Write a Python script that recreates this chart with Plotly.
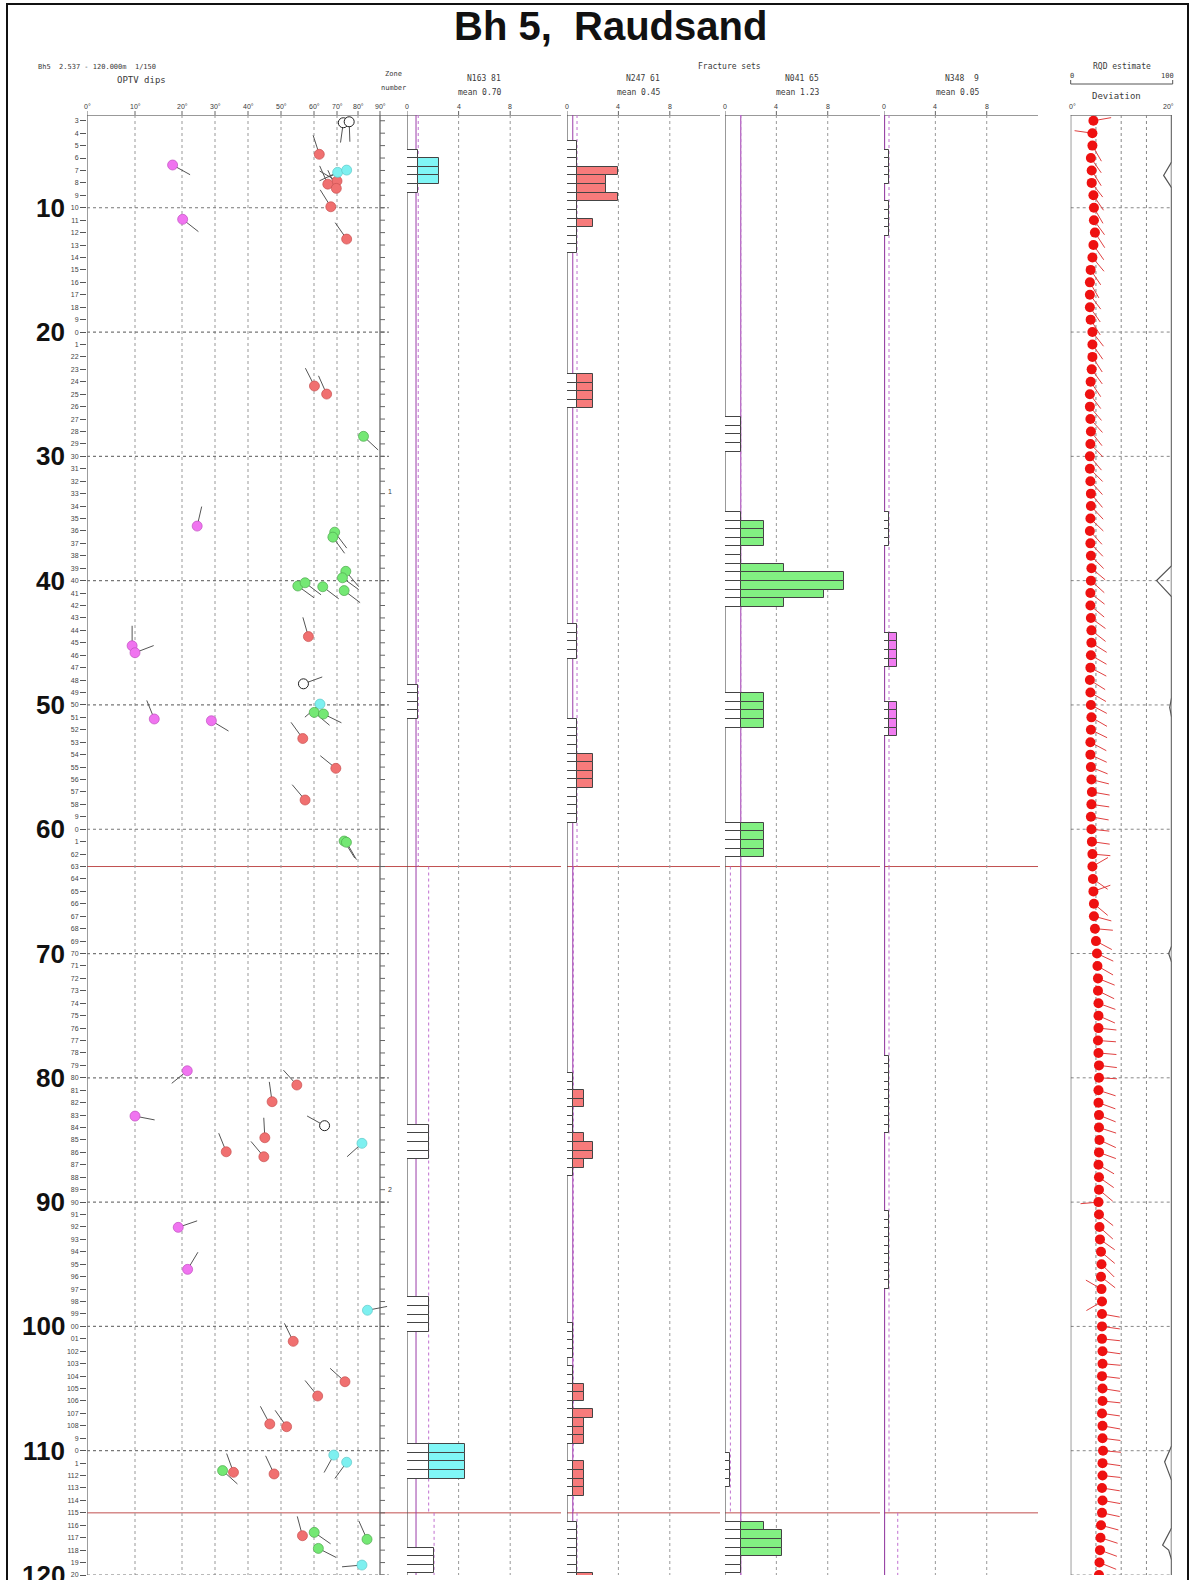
import numpy as np
import plotly.graph_objects as go

# ---------------- geometry helpers (layout only) ----------------
W, H = 1191, 1580
T_PX, B_PX = 115, 5
D_TOP, D_BOT = 2.537, 120.0
PLOT_H = H - T_PX - B_PX
PPM = PLOT_H / (D_BOT - D_TOP)          # pixels per metre


def fx(p):
    return p / W


def fy(p):
    return 1 - (p - T_PX) / PLOT_H


FONT = "Liberation Sans"
MONO = "DejaVu Sans Mono"
TXT = "#3a3a3a"

# ---------------- data ----------------
ZONE_TOPS = [2.537, 63.0, 115.0]
ZONE_LABELS = ["1", "2"]
ZONE_LABEL_DEPTHS = [32.8, 89.0]

# OPTV dips (tadpoles)
DIP_DEPTH = [3.16, 3.08, 5.70, 6.56, 7.15, 6.97, 7.85, 8.10, 8.44, 9.92, 10.93, 12.52,
             24.34, 24.99, 28.39, 35.61, 36.10, 36.50, 39.25, 39.77, 40.43, 40.17, 40.49,
             40.80, 44.50, 45.24, 45.80, 48.30, 49.93, 50.60, 50.73, 51.13, 51.27, 52.70,
             55.10, 57.65, 60.95, 61.05, 79.43, 80.58, 81.92, 83.08, 83.85, 84.82, 85.27,
             85.95, 86.35, 92.03, 95.41, 98.70, 101.20, 104.45, 105.60, 107.85, 108.07,
             110.35, 110.93, 111.60, 111.74, 111.87, 116.84, 116.57, 117.86, 117.13, 119.20]
DIP_ANGLE = [73.0, 75.8, 62.3, 18.0, 70.3, 74.6, 70.0, 66.0, 69.7, 67.3, 20.2, 74.6,
             60.2, 65.5, 82.5, 24.6, 69.0, 68.2, 74.2, 72.6, 55.1, 57.3, 63.8,
             73.4, 58.3, 9.4, 10.0, 56.8, 62.6, 60.1, 64.1, 14.1, 28.9, 56.6,
             69.5, 57.3, 73.4, 74.5, 21.6, 54.8, 47.3, 10.0, 64.6, 45.1, 81.8,
             33.4, 44.8, 19.2, 21.7, 84.3, 53.7, 73.8, 61.6, 46.6, 51.7,
             68.6, 74.6, 32.3, 35.6, 47.9, 56.5, 60.1, 61.9, 84.1, 81.8]
DIP_AZIM = [188, 178, 342, 119, 245, 250, 300, 336, 335, 328, 128, 325,
            333, 336, 133, 13, 143, 144, 140, 126, 126, 127, 127,
            127, 344, 0, 69, 70, 229, 130, 116, 338, 121, 324,
            309, 320, 148, 150, 231, 318, 352, 101, 299, 357, 228,
            338, 320, 71, 31, 79, 334, 312, 321, 332, 325,
            209, 216, 132, 340, 335, 345, 125, 117, 336, 265]
DIP_SET = ["X", "X", "N247", "N348", "N163", "N163", "N247", "N247", "N247", "N247", "N348", "N247",
           "N247", "N247", "N041", "N348", "N041", "N041", "N041", "N041", "N041", "N041", "N041",
           "N041", "N247", "N348", "N348", "X", "N163", "N041", "N041", "N348", "N348", "N247",
           "N247", "N247", "N041", "N041", "N348", "N247", "N247", "N348", "X", "N247", "N163",
           "N247", "N247", "N348", "N348", "N163", "N247", "N247", "N247", "N247", "N247",
           "N163", "N163", "N041", "N247", "N247", "N247", "N041", "N041", "N041", "N163"]

DIP_TICKS = [0, 10, 20, 30, 40, 50, 60, 70, 80, 90]

# Fracture-set histograms: bins of BIN_WIDTH m from BIN_START, runs of (first bin, values)
BIN_START = 2.537
BIN_WIDTH = 0.6943
SET_NAMES = ["N163", "N247", "N041", "N348"]
SET_TITLE = ["N163 81", "N247 61", "N041 65", "N348\u00a0\u00a09"]
SET_MEAN = [0.70, 0.45, 1.23, 0.05]
SET_THRESH = [[0.87, 1.68, 2.10],
              [0.78, 0.50, 0.78],
              [1.23, 0.42, 1.23],
              [0.39, 0.39, 1.07]]
N163_RUNS = [(4, [0.3, 2.45, 2.45, 2.45, 0.3]), (66, [0.3] * 4), (117, [0.3] * 4),
             (137, [0.3] * 4), (154, [4.5] * 4), (166, [0.3] * 3)]
N247_RUNS = [(3, [0.3, 0.3, 0.3, 4.0, 3.0, 3.0, 4.0, 0.3, 0.3, 2.0, 0.3, 0.3, 0.3]),
             (30, [2.0] * 4), (59, [0.3] * 4),
             (70, [0.3, 0.3, 0.3, 0.3, 2.0, 2.0, 2.0, 2.0, 0.3, 0.3, 0.3, 0.3]),
             (111, [0.3, 0.3, 1.36, 1.36, 0.3, 0.3, 0.3, 1.36, 2.0, 2.0, 1.36, 0.3]),
             (140, [0.3] * 4),
             (145, [0.3, 0.3, 1.36, 1.36, 0.3, 2.0, 1.36, 1.36, 1.36]),
             (156, [1.36] * 4), (163, [0.3] * 6), (169, [2.0])]
N041_RUNS = [(35, [0.3] * 4),
             (46, [0.3, 3.07, 3.07, 3.07, 0.3, 0.3, 4.6, 9.3, 9.3, 7.7, 4.6]),
             (67, [3.07] * 4), (82, [3.07] * 4), (155, [0.3] * 4),
             (163, [3.0, 4.4, 4.4, 4.4, 0.3, 0.3])]
N348_RUNS = [(4, [0.3] * 4), (10, [0.3] * 4), (46, [0.3] * 4), (60, [1.0] * 4),
             (68, [1.0] * 4), (109, [0.3] * 9), (127, [0.3] * 9)]
SET_RUNS = [N163_RUNS, N247_RUNS, N041_RUNS, N348_RUNS]
HIST_TICKS = [0, 4, 8]

# Deviation (one value per metre) and azimuth of the deviation tail
DEV_DEPTH = list(range(3, 121))
DEV_VALUE = ([4.5, 4.3, 4.3, 4.0, 4.15, 4.15, 4.5, 4.6, 4.6, 4.8, 4.5, 4.3, 3.95, 3.8, 3.8,
              3.8, 3.95, 4.3, 4.3, 4.3, 4.15, 3.95, 3.8]
             + [3.8, 3.9, 4.0, 3.9, 3.8, 3.8, 3.9, 4.0, 4.0, 3.9, 3.8, 3.9, 4.0, 4.1, 4.0,
                3.9, 3.9, 4.0, 4.1]
             + [4.1, 4.0, 3.9, 3.8, 3.9, 4.0, 4.1, 4.0, 3.9, 3.9, 4.0, 4.1, 4.2, 4.1, 4.0,
                4.1, 4.2, 4.3]
             + [4.3, 4.4, 4.5, 4.6, 4.6, 4.8, 5.0, 5.2]
             + [5.3, 5.4, 5.4, 5.5, 5.5, 5.5, 5.4, 5.5, 5.6, 5.6, 5.5, 5.5, 5.6, 5.6, 5.7,
                5.6, 5.5, 5.6, 5.6, 5.5]
             + [5.6, 5.7, 5.8, 6.0, 6.1, 6.0, 6.1, 6.2, 6.2, 6.2]
             + [6.2, 6.3, 6.3, 6.2, 6.3, 6.3, 6.2, 6.3, 6.3, 6.4, 6.3, 6.3, 6.2, 6.3, 6.2,
                6.0, 5.9, 5.8, 5.7, 5.6])
DEV_AZIM = ([80, 278, 150]
            + [145, 148, 142, 146, 150, 144, 147, 145, 140, 146, 150, 143, 145, 148, 142,
               145, 147, 144, 146, 143]
            + [140, 138, 142, 136, 140, 135, 138, 140, 137, 134, 138, 136, 135, 130, 132,
               128, 130, 126, 128]
            + [122, 120, 118, 122, 120, 118, 120, 116, 118, 115, 112]
            + [104, 100, 98, 100, 96, 98, 95]
            + [60, 125, 70, 130, 105, 95]
            + [118, 115, 120, 112, 116, 110, 114]
            + [96, 94, 95, 97, 93]
            + [108, 110, 112, 108, 115, 110, 120, 125]
            + [130, 265]
            + [128, 132, 125, 130, 135, 128]
            + [300, 240]
            + [100, 98, 96, 98, 95, 97, 99, 96, 98, 100, 97, 95, 98, 96, 99, 100, 102, 105,
               108, 110, 112, 115])

# RQD estimate (0-100)
RQD_DEPTH = [2.537, 6.3, 7.4, 8.4, 38.8, 40.0, 41.3, 49.4, 50.2, 51.0, 69.4, 70.0, 70.7,
             109.6, 110.9, 112.4, 116.2, 117.6, 118.0, 118.8, 120.0]
RQD_VALUE = [100, 100, 92, 100, 100, 85, 100, 100, 98, 100, 100, 97, 100,
             100, 93, 100, 100, 91, 97, 100, 100]

DEPTH_TICKS = list(range(3, 121))
SHORT_LABEL = {19: "9", 20: "0", 21: "1", 59: "9", 60: "0", 61: "1", 100: "00", 101: "01",
               109: "9", 110: "0", 111: "1", 119: "19", 120: "20"}
DEPTH_LABELS = [SHORT_LABEL.get(d, str(d)) for d in DEPTH_TICKS]
BIG_DEPTHS = list(range(10, 121, 10))

# ---------------- styles ----------------
SET_FILL = {"N163": "#80F6F6", "N247": "#F77B7B", "N041": "#82F082", "N348": "#F07CF0"}
DOT_FILL = {"N163": "#7DF0F0", "N247": "#F07070", "N041": "#74E874", "N348": "#F074F0", "X": "#FFFFFF"}
DOT_LINE = {"N163": "#62C8C8", "N247": "#C85050", "N041": "#4EA84E", "N348": "#C050C0", "X": "#222222"}

# dip display scale (nonlinear plotter scale), px from 0 deg line
DIP_TICK_PX = [0, 48, 95, 128, 161, 194, 227, 250, 271, 293]
DIP_L, DIP_R = 87, 390
HIST_ZERO = [407, 567, 725, 884]
HIST_UNIT = [12.9, 12.85, 12.84, 12.84]
HIST_END = [561, 720, 880, 1038]
DEV_L, DEV_R = 1070.7, 1171.7


def dip_x(a):
    return np.interp(a, DIP_TICKS, DIP_TICK_PX)


fig = go.Figure()
shapes = []
annots = []


def line(xref, x0, x1, yref, y0, y1, color, width=1, dash="solid"):
    shapes.append(dict(type="line", xref=xref, yref=yref, x0=x0, x1=x1, y0=y0, y1=y1,
                       line=dict(color=color, width=width, dash=dash), layer="below"))


def text(s, x, y, size=8, xanchor="center", yanchor="middle", xref="paper", yref="paper",
         color=TXT, bold=False, family=MONO):
    annots.append(dict(text=("<b>%s</b>" % s) if bold else s, x=x, y=y, xref=xref, yref=yref,
                       xanchor=xanchor, yanchor=yanchor, showarrow=False,
                       font=dict(family=family, size=size, color=color)))


# ---------------- dip panel ----------------
for a, p in zip(DIP_TICKS, DIP_TICK_PX):
    if a in (0, 90):
        line("x", p, p, "y", D_TOP, D_BOT, "#666666", 1.3)
    else:
        line("x", p, p, "y", D_TOP, D_BOT, "#999999", 1, "dot")
    text("%d\u00b0" % a, p, fy(106), xref="x", size=7, family=FONT)
    line("x", p, p, "paper", fy(115), fy(111), "#666666", 1)
for d in BIG_DEPTHS:
    line("x", 0, DIP_R - DIP_L - 1, "y", d, d, "#777777", 1.2, "dot")
    line("x6", 0, 20, "y", d, d, "#888888", 1, "dot")
    text(str(d), fx(67), d, size=26, xanchor="right", yref="y", color="#111111", bold=True,
         family=FONT)

# right-hand ticks of the zone column
tx, ty = [], []
for d in DEPTH_TICKS:
    tx += [DIP_TICK_PX[-1], DIP_TICK_PX[-1] + 5, None]
    ty += [d, d, None]
fig.add_trace(go.Scatter(x=tx, y=ty, mode="lines", line=dict(color="#666666", width=1),
                         xaxis="x", yaxis="y", hoverinfo="skip"))

# tadpole tails
L = 20.0
tx, ty = [], []
for d, a, az in zip(DIP_DEPTH, DIP_ANGLE, DIP_AZIM):
    x0 = float(dip_x(a))
    r = np.radians(az)
    tx += [x0, x0 + L * np.sin(r), None]
    ty += [d, d - L * np.cos(r) / PPM, None]
fig.add_trace(go.Scatter(x=tx, y=ty, mode="lines", line=dict(color="#555555", width=1),
                         xaxis="x", yaxis="y", hoverinfo="skip"))
for s in ["X", "N247", "N163", "N041", "N348"]:
    idx = [i for i, k in enumerate(DIP_SET) if k == s]
    fig.add_trace(go.Scatter(
        x=[float(dip_x(DIP_ANGLE[i])) for i in idx], y=[DIP_DEPTH[i] for i in idx],
        mode="markers", xaxis="x", yaxis="y",
        marker=dict(size=10, color=DOT_FILL[s], line=dict(color=DOT_LINE[s], width=1 if s == "X" else 0.7))))


# ---------------- histograms ----------------
def zone_of(d):
    z = 0
    for i, t in enumerate(ZONE_TOPS):
        if d >= t:
            z = i
    return z


for k, name in enumerate(SET_NAMES):
    xa = "x%d" % (k + 2)
    wy, wx, cy, cx, cb = [], [], [], [], []
    for start, vals in SET_RUNS[k]:
        for j, v in enumerate(vals):
            c = BIN_START + (start + j + 0.5) * BIN_WIDTH
            thr = SET_THRESH[k][zone_of(c)]
            wy.append(c)
            wx.append(thr)
            if v > thr:
                cy.append(c)
                cx.append(v - thr)
                cb.append(thr)
    fig.add_trace(go.Bar(y=wy, x=wx, base=0, orientation="h", width=BIN_WIDTH, xaxis=xa, yaxis="y",
                         marker=dict(color="#FFFFFF", line=dict(color="#444444", width=1))))
    fig.add_trace(go.Bar(y=cy, x=cx, base=cb, orientation="h", width=BIN_WIDTH, xaxis=xa, yaxis="y",
                         marker=dict(color=SET_FILL[name], line=dict(color="#444444", width=1))))
    line(xa, 0, 0, "y", D_TOP, D_BOT, "#555555", 1.2)
    for t in HIST_TICKS[1:]:
        line(xa, t, t, "y", D_TOP, D_BOT, "#999999", 1, "dot")
    for t in HIST_TICKS:
        text(str(t), t, fy(106), xref=xa, size=7, family=FONT)
        line(xa, t, t, "paper", fy(115), fy(111), "#666666", 1)
    line(xa, SET_MEAN[k], SET_MEAN[k], "y", D_TOP, D_BOT, "#9A3CA8", 1)
    zb = ZONE_TOPS + [D_BOT]
    for z in range(3):
        line(xa, SET_THRESH[k][z], SET_THRESH[k][z], "y", zb[z], zb[z + 1], "#C070D0", 1, "dot")
    rx = [503, 662, 821, 981][k]
    text(SET_TITLE[k], fx(rx), fy(79), xanchor="right")
    text("mean %.2f" % SET_MEAN[k], fx(rx + 1), fy(93), xanchor="right")

# top axis lines and zone boundaries
SEGS = [(DIP_L, HIST_END[0]), (HIST_ZERO[1], HIST_END[1]), (HIST_ZERO[2], HIST_END[2]),
        (HIST_ZERO[3], HIST_END[3])]
for a, b in SEGS:
    line("paper", fx(a), fx(b), "y", D_TOP, D_TOP, "#777777", 1.5)
    for zt in ZONE_TOPS[1:]:
        line("paper", fx(a), fx(b), "y", zt, zt, "#C05050", 1)
for lab, d in zip(ZONE_LABELS, ZONE_LABEL_DEPTHS):
    text(lab, fx(390), d, size=7, yref="y", family=FONT)

# ---------------- deviation / RQD ----------------
line("x6", 0, 0, "y", D_TOP, D_BOT, "#555555", 1.2)
line("x6", 20, 20, "y", D_TOP, D_BOT, "#888888", 2)
for t in [5, 10, 15]:
    line("x6", t, t, "y", D_TOP, D_BOT, "#888888", 1, "dot")
line("paper", fx(DEV_L), fx(DEV_R), "y", D_TOP, D_TOP, "#777777", 1.5)
fig.add_trace(go.Scatter(x=RQD_VALUE, y=RQD_DEPTH, mode="lines", xaxis="x7", yaxis="y",
                         line=dict(color="#555555", width=1.2)))
LD = 18.0
DEV_PPU = (DEV_R - DEV_L) / 20.0
tx, ty = [], []
for d, v, az in zip(DEV_DEPTH, DEV_VALUE, DEV_AZIM):
    r = np.radians(az)
    tx += [v, v + LD * np.sin(r) / DEV_PPU, None]
    ty += [d, d - LD * np.cos(r) / PPM, None]
fig.add_trace(go.Scatter(x=tx, y=ty, mode="lines", line=dict(color="#E04040", width=1),
                         xaxis="x6", yaxis="y"))
fig.add_trace(go.Scatter(x=DEV_VALUE, y=DEV_DEPTH, mode="markers", xaxis="x6", yaxis="y",
                         marker=dict(size=10, color="#EE1111")))

# ---------------- header texts ----------------
text("<b>Bh 5,\u00a0\u00a0Raudsand</b>", fx(610), fy(26), size=40, color="#111111", family=FONT)
text("Bh5\u00a0\u00a02.537 - 120.000m\u00a0\u00a01/150", fx(36), fy(67), xanchor="left", size=7)
text("OPTV dips", fx(141), fy(80), size=9)
text("Zone", fx(393), fy(74), size=7)
text("number", fx(393), fy(88), size=7)
text("Fracture sets", fx(729), fy(67))
text("RQD estimate", fx(1122), fy(67))
text("0", fx(1072), fy(76), size=7)
text("100", fx(1167), fy(76), size=7)
text("Deviation", fx(1116), fy(96), size=9)
text("0\u00b0", fx(1072), fy(106), size=7, family=FONT)
text("20\u00b0", fx(1168), fy(106), size=7, family=FONT)
line("paper", fx(DEV_L), fx(DEV_R + 1), "paper", fy(84), fy(84), "#555555", 1)
line("paper", fx(DEV_L), fx(DEV_L), "paper", fy(84), fy(80), "#555555", 1)
line("paper", fx(DEV_R + 1), fx(DEV_R + 1), "paper", fy(84), fy(80), "#555555", 1)

# outer frame
shapes.append(dict(type="rect", xref="paper", yref="paper", x0=fx(7), x1=fx(1188),
                   y0=fy(1600), y1=fy(4), line=dict(color="#111111", width=2)))

# ---------------- axes ----------------
ax_common = dict(visible=False, fixedrange=True, anchor="y")
layout = dict(
    width=W, height=H, margin=dict(l=0, r=0, t=T_PX, b=B_PX),
    paper_bgcolor="white", plot_bgcolor="rgba(0,0,0,0)", showlegend=False,
    barmode="overlay", bargap=0,
    xaxis=dict(domain=[fx(DIP_L), fx(DIP_R)], range=[0, DIP_R - DIP_L], **ax_common),
    yaxis=dict(domain=[0, 1], range=[D_BOT, D_TOP], anchor="x", tickmode="array",
               tickvals=DEPTH_TICKS, ticktext=DEPTH_LABELS, ticks="outside", ticklen=6,
               tickcolor="#555555", tickfont=dict(family=FONT, size=7, color="#444444"),
               showgrid=False, zeroline=False, showline=False, fixedrange=True),
    xaxis6=dict(domain=[fx(DEV_L), fx(DEV_R)], range=[0, 20], **ax_common),
    xaxis7=dict(domain=[fx(DEV_L), fx(DEV_R)], range=[0, 100], overlaying="x6", **ax_common),
    shapes=shapes, annotations=annots,
)
for k in range(4):
    layout["xaxis%d" % (k + 2)] = dict(
        domain=[fx(HIST_ZERO[k]), fx(HIST_END[k])],
        range=[0, (HIST_END[k] - HIST_ZERO[k]) / HIST_UNIT[k]], **ax_common)
fig.update_layout(**layout)
fig.write_html("out.html", config={"displayModeBar": False},
               post_script="document.body.style.margin='0px';document.body.style.overflow='hidden';")
